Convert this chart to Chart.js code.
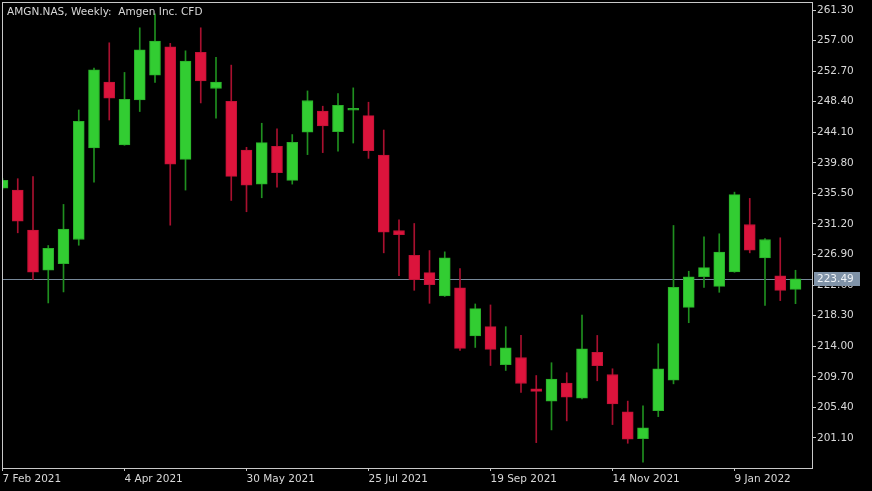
<!DOCTYPE html>
<html>
<head>
<meta charset="utf-8">
<script src="https://cdn.jsdelivr.net/npm/chart.js@4.4.1/dist/chart.umd.min.js"></script>
<style>
  html, body { margin: 0; padding: 0; background: #000; }
  #wrap { width: 872px; height: 491px; }
</style>
</head>
<body>
<div id="wrap"><canvas id="candles" width="872" height="491"></canvas></div>
<script>
// AMGN weekly candles
const chartTitle = "AMGN.NAS, Weekly:  Amgen Inc. CFD";
const lastPrice = 223.49;

const opens = [236.25, 235.97, 230.33, 224.69, 225.63, 229.02, 241.89, 251.15, 242.31, 248.65,
  252.14, 256.13, 240.29, 255.34, 250.26, 248.47, 241.60, 236.81, 242.13, 237.33,
  244.10, 247.10, 244.20, 247.20, 246.45, 240.90, 230.28, 226.80, 224.36, 221.08,
  222.21, 215.44, 216.75, 211.39, 212.42, 208.01, 206.28, 208.81, 206.70, 213.13,
  210.03, 204.77, 201.00, 204.95, 209.24, 219.47, 223.80, 222.43, 224.46, 231.13,
  226.44, 223.90, 222.01];
const highs = [237.60, 237.57, 237.86, 228.17, 233.95, 247.24, 253.12, 256.69, 252.52, 258.80,
  260.78, 256.61, 255.56, 258.80, 254.63, 253.55, 241.99, 245.37, 244.57, 243.78,
  249.92, 247.77, 249.56, 250.35, 248.33, 244.42, 231.79, 231.27, 227.46, 227.28,
  224.93, 219.95, 219.81, 216.75, 215.52, 209.88, 211.68, 210.27, 218.40, 215.52,
  210.83, 206.28, 205.61, 214.35, 230.99, 224.55, 229.40, 229.82, 235.68, 234.80,
  229.16, 229.26, 224.69];
const lows = [236.05, 229.96, 223.38, 220.09, 221.64, 228.21, 237.09, 245.83, 242.27, 247.02,
  251.11, 231.03, 235.97, 248.23, 246.07, 234.51, 232.92, 234.89, 236.39, 236.81,
  240.96, 241.24, 241.46, 242.59, 240.43, 227.14, 223.94, 221.87, 220.04, 221.00,
  213.41, 213.83, 211.29, 210.59, 207.49, 200.44, 202.23, 203.50, 206.60, 209.14,
  202.98, 200.35, 197.68, 204.10, 208.71, 217.31, 222.29, 221.59, 224.40, 227.14,
  219.75, 220.42, 219.99];
const closes = [237.33, 231.60, 224.41, 227.79, 230.47, 245.65, 252.88, 248.89, 248.75, 255.70,
  256.93, 239.63, 254.11, 251.33, 251.15, 237.90, 236.67, 242.65, 238.42, 242.69,
  248.57, 244.99, 247.91, 247.48, 241.52, 230.04, 229.68, 223.38, 222.67, 226.44,
  213.69, 219.29, 213.55, 213.79, 208.76, 207.63, 209.38, 206.84, 213.65, 211.25,
  205.89, 200.92, 202.51, 210.83, 222.29, 223.76, 225.07, 227.23, 235.32, 227.51,
  229.02, 221.87, 223.49];

const priceTicks = [201.10, 205.40, 209.70, 214.00, 218.30, 222.60, 226.90, 231.20,
  235.50, 239.80, 244.10, 248.40, 252.70, 257.00, 261.30];
const dateTickIndex = [0, 8, 16, 24, 32, 40, 48];
const dateTickLabels = ["7 Feb 2021", "4 Apr 2021", "30 May 2021", "25 Jul 2021",
  "19 Sep 2021", "14 Nov 2021", "9 Jan 2022"];

const upBody = "#32cd32";
const upEdge = "#2aae2a";
const upWick = "#1f8f1f";
const downBody = "#dc143c";
const downEdge = "#c01236";
const downWick = "#a8102f";
const textColor = "#d8d8d8";
const frameColor = "#c8c8c8";
const axisFont = { family: "DejaVu Sans", size: 10.5 };

const isUp = opens.map((o, i) => closes[i] >= o);

const wickData = opens.map((o, i) => ({ x: i, y: [lows[i], highs[i]] }));
const bodyData = opens.map((o, i) => ({ x: i, y: [o, closes[i]] }));

// frame, title and the current price line/label like the terminal draws them
const terminalLook = {
  id: "terminalLook",
  beforeDraw(chart) {
    const ctx = chart.ctx;
    ctx.save();
    ctx.fillStyle = "#000";
    ctx.fillRect(0, 0, chart.width, chart.height);
    ctx.restore();
  },
  beforeDatasetsDraw(chart) {
    const { ctx, chartArea } = chart;
    const y = Math.round(chart.scales.y.getPixelForValue(lastPrice)) + 0.5;
    ctx.save();
    ctx.strokeStyle = "#778899";
    ctx.lineWidth = 1;
    ctx.beginPath();
    ctx.moveTo(chartArea.left, y);
    ctx.lineTo(chartArea.right, y);
    ctx.stroke();
    ctx.restore();
  },
  afterDraw(chart) {
    const { ctx, chartArea } = chart;
    ctx.save();
    ctx.strokeStyle = frameColor;
    ctx.lineWidth = 1;
    ctx.strokeRect(Math.round(chartArea.left) + 0.5, Math.round(chartArea.top) + 0.5,
      Math.round(chartArea.right - chartArea.left), Math.round(chartArea.bottom - chartArea.top));

    ctx.font = "10.5px 'DejaVu Sans'";
    ctx.fillStyle = textColor;
    ctx.textBaseline = "alphabetic";
    ctx.textAlign = "left";
    ctx.fillText(chartTitle, 7, 15);

    const y = Math.round(chart.scales.y.getPixelForValue(lastPrice));
    const bx = Math.round(chartArea.right) + 2;
    ctx.fillStyle = "#8093a8";
    ctx.fillRect(bx, y - 7, 46, 14);
    ctx.fillStyle = "#eef2f6";
    ctx.textBaseline = "middle";
    ctx.fillText(lastPrice.toFixed(2), bx + 3, y + 0.5);
    ctx.restore();
  }
};

const ctx = document.getElementById("candles").getContext("2d");
const candleChart = new Chart(ctx, {
  type: "bar",
  data: {
    datasets: [
      {
        label: "Body",
        data: bodyData,
        backgroundColor: isUp.map(u => (u ? upBody : downBody)),
        borderColor: isUp.map(u => (u ? upEdge : downEdge)),
        borderWidth: 1,
        borderSkipped: false,
        barThickness: 11,
        grouped: false,
        order: 0,
      },
      {
        label: "Wick",
        data: wickData,
        backgroundColor: isUp.map(u => (u ? upWick : downWick)),
        borderWidth: 0,
        barThickness: 1,
        grouped: false,
        order: 1,
      },
    ],
  },
  options: {
    responsive: false,
    animation: false,
    events: [],
    layout: { padding: { left: 2, top: 2, right: 0, bottom: 0 } },
    plugins: {
      legend: { display: false },
      tooltip: { enabled: false },
      title: { display: false },
    },
    scales: {
      x: {
        type: "linear",
        position: "bottom",
        min: -0.033,
        max: 53.082,
        offset: false,
        border: { display: false },
        grid: { offset: false, drawOnChartArea: false, drawTicks: true, tickLength: 3, color: frameColor },
        ticks: {
          color: textColor,
          font: axisFont,
          align: "start",
          maxRotation: 0,
          autoSkip: false,
          padding: 2,
          callback: (v, i) => dateTickLabels[i],
        },
        afterBuildTicks: (scale) => {
          scale.ticks = dateTickIndex.map(v => ({ value: v }));
        },
        afterFit: (scale) => {
          scale.height = 23;
          scale.paddingLeft = 0;
          scale.paddingRight = 0;
        },
      },
      y: {
        type: "linear",
        position: "right",
        min: 196.87,
        max: 262.43,
        border: { display: false },
        grid: { drawOnChartArea: false, drawTicks: true, tickLength: 4, color: frameColor },
        ticks: {
          color: textColor,
          font: axisFont,
          padding: 1,
          autoSkip: false,
          callback: (v) => Number(v).toFixed(2),
        },
        afterBuildTicks: (scale) => {
          scale.ticks = priceTicks.map(v => ({ value: v }));
        },
        afterFit: (scale) => {
          scale.width = 60;
          scale.paddingTop = 0;
          scale.paddingBottom = 0;
        },
      },
    },
  },
  plugins: [terminalLook],
});
</script>
</body>
</html>
